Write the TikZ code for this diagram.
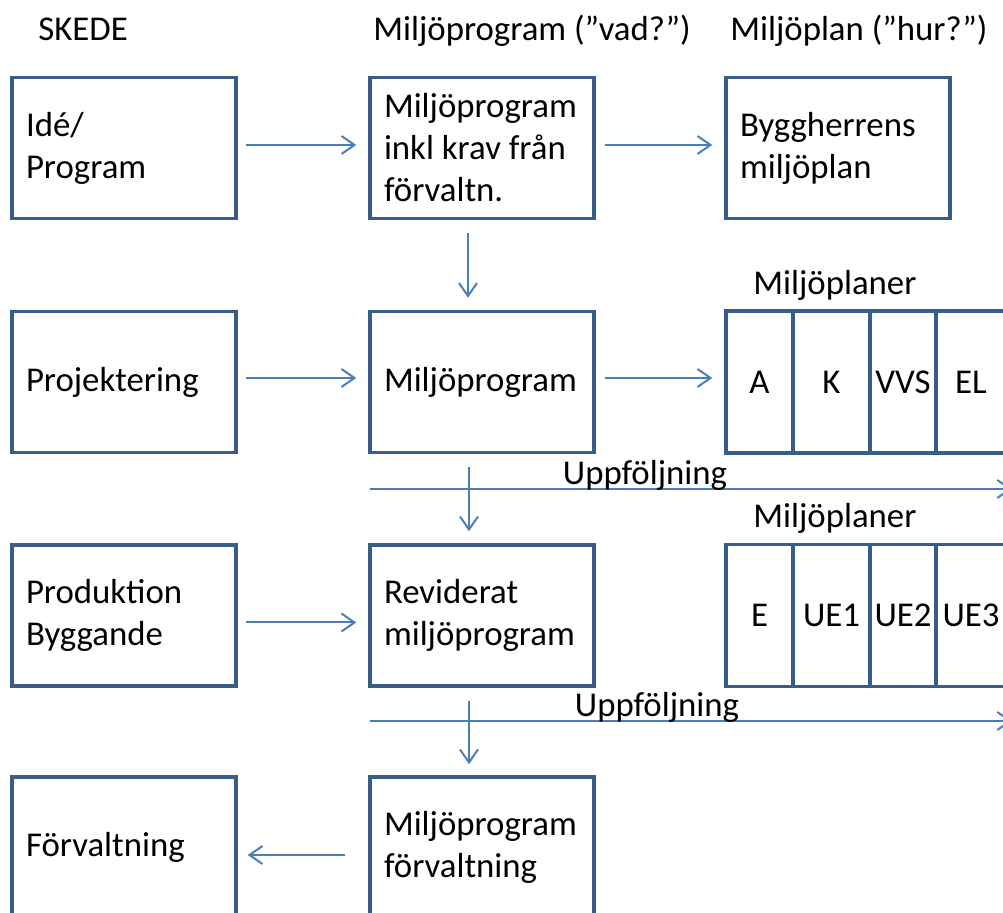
\documentclass[tikz,border=0pt]{standalone}
\usepackage{fontspec}
\setmainfont{Carlito}
\usetikzlibrary{arrows.meta}
\definecolor{boxblue}{HTML}{385D8A}
\definecolor{arrblue}{HTML}{4A7EBB}

\begin{document}
\begin{tikzpicture}
	[x=0.5pt,y=-0.5pt,
	every node/.style={font=\fontsize{17.4}{21}\selectfont},
	lbl/.style={inner sep=0pt},
	box/.style={draw=boxblue,line width=1.75pt,minimum width=112pt,minimum height=70.5pt,inner xsep=7pt,text width=98pt,align=flush left},
	cell/.style={draw=boxblue,line width=1.75pt,minimum height=71pt,inner sep=0pt},
	arr/.style={draw=arrblue,line width=1pt,-{Straight Barb[length=6.5pt,width=9pt]}}]
	\useasboundingbox (0,0) rectangle (1003,913);
	\clip (0,0) rectangle (1003,913);
	% rubriker
	\node[lbl,anchor=base west] (skede) at (38,41) {SKEDE};
	\node[lbl,anchor=base west] (vad) at (373,41) {Miljöprogram (”vad?”)};
	\node[lbl,anchor=base west] (hur) at (730,41) {Miljöplan (”hur?”)};
	% skeden
	\node[box] (idea) at (124,148) {Idé/\\Program};
	\node[box] (proj) at (124,382) {Projektering};
	\node[box] (prod) at (124,615.5) {Produktion\\Byggande};
	\node[box] (forv) at (124,847.5) {Förvaltning};
	% miljöprogram
	\node[box] (mp1) at (482,148) {Miljöprogram\\inkl krav från\\förvaltn.};
	\node[box] (mp2) at (482,382) {Miljöprogram};
	\node[box] (rev) at (482,615.5) {Reviderat\\miljöprogram};
	\node[box] (mp4) at (482,847.5) {Miljöprogram\\förvaltning};
	% miljöplaner
	\node[box] (bh) at (838,148) {Byggherrens\\miljöplan};
	\node[lbl,anchor=base] (mpl1) at (835,295) {Miljöplaner};
	\node[cell,minimum width=33.5pt] (pA) at (759.5,382) {A};
	\node[cell,minimum width=38.5pt] (pK) at (831.5,382) {K};
	\node[cell,minimum width=33pt] (pVVS) at (903,382) {VVS};
	\node[cell,minimum width=35pt] (pEL) at (971,382) {EL};
	\node[lbl,anchor=base] (mpl2) at (835,528) {Miljöplaner};
	\node[cell,minimum width=33.5pt] (pE) at (759.5,615.5) {E};
	\node[cell,minimum width=38.5pt] (pUE1) at (831.5,615.5) {UE1};
	\node[cell,minimum width=33pt] (pUE2) at (903,615.5) {UE2};
	\node[cell,minimum width=35pt] (pUE3) at (971,615.5) {UE3};
	% uppföljning
	\coordinate (u1a) at (370,489);
	\coordinate (u1b) at (1012,489);
	\coordinate (u2a) at (370,721);
	\coordinate (u2b) at (1012,721);
	\draw[arr] (u1a) -- (u1b);
	\draw[arr] (u2a) -- (u2b);
	\node[lbl,anchor=base] (upp1) at (645,485) {Uppföljning};
	\node[lbl,anchor=base] (upp2) at (657,717) {Uppföljning};
	% pilar
	\draw[arr,shorten <=4pt,shorten >=6pt] ([yshift=1.5pt]idea.east) -- ([yshift=1.5pt]mp1.west);
	\draw[arr,shorten <=4.5pt,shorten >=6pt] ([yshift=1.5pt]mp1.east) -- ([yshift=1.5pt]bh.west);
	\draw[arr,shorten <=4pt,shorten >=6pt] ([yshift=2pt]proj.east) -- ([yshift=2pt]mp2.west);
	\draw[arr,shorten <=4.5pt,shorten >=6pt] ([yshift=2pt]mp2.east) -- ([yshift=2pt]pA.west);
	\draw[arr,shorten <=4pt,shorten >=6pt] ([yshift=-3.5pt]prod.east) -- ([yshift=-3.5pt]rev.west);
	\draw[arr,shorten <=11.5pt,shorten >=5pt] ([yshift=-3.75pt]mp4.west) -- ([yshift=-3.75pt]forv.east);
	\draw[arr,shorten <=6.5pt,shorten >=6pt] ([xshift=-7pt]mp1.south) -- ([xshift=-7pt]mp2.north);
	\draw[arr,shorten <=6.5pt,shorten >=6pt] ([xshift=-6.5pt]mp2.south) -- ([xshift=-6.5pt]rev.north);
	\draw[arr,shorten <=6.5pt,shorten >=5.5pt] ([xshift=-6.5pt]rev.south) -- ([xshift=-6.5pt]mp4.north);
\end{tikzpicture}
\end{document}
